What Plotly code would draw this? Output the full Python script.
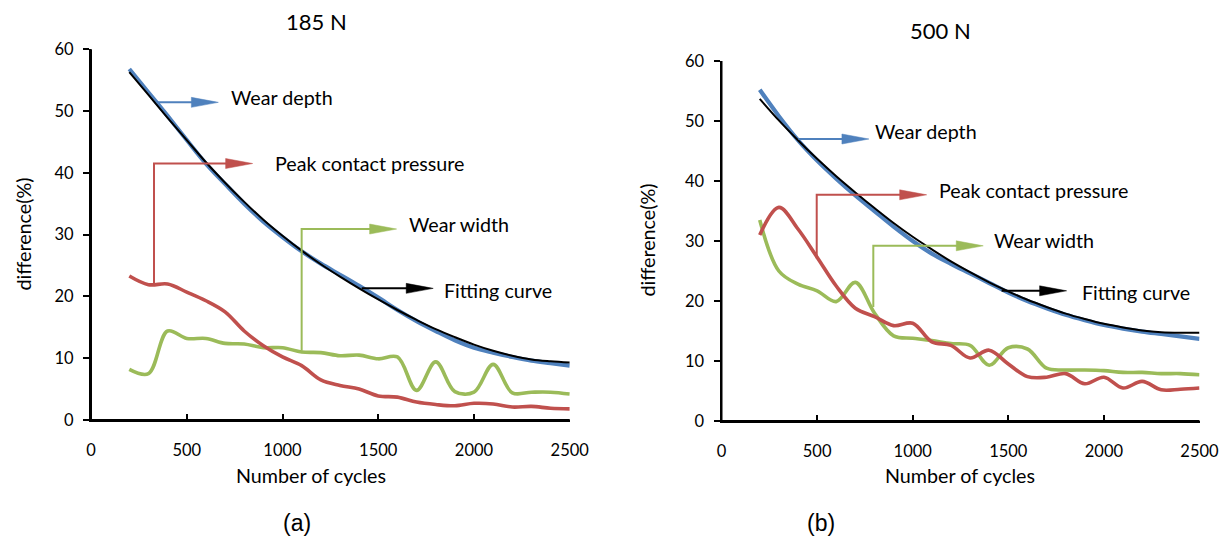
import plotly.graph_objects as go

# ---------------- data ----------------
cycles = [200, 300, 400, 500, 600, 700, 800, 900, 1000, 1100, 1200, 1300,
          1400, 1500, 1600, 1700, 1800, 1900, 2000, 2100, 2200, 2300, 2400, 2500]

# (a) 185 N
wear_depth_a = [56.8, 53.0, 49.2, 45.3, 41.5, 38.2, 35.0, 32.1, 29.6, 27.3, 25.3, 23.5,
                21.7, 19.8, 17.8, 16.0, 14.4, 12.9, 11.7, 10.9, 10.2, 9.6, 9.2, 8.8]
fitting_a = [56.3, 52.6, 48.9, 45.3, 41.7, 38.4, 35.3, 32.4, 29.8, 27.4, 25.2, 23.2,
             21.3, 19.5, 17.8, 16.2, 14.7, 13.4, 12.2, 11.2, 10.4, 9.8, 9.5, 9.3]
pressure_a = [23.3, 21.9, 22.0, 20.7, 19.3, 17.5, 14.4, 12.0, 10.2, 8.8, 6.5, 5.6,
              5.0, 3.9, 3.7, 2.9, 2.5, 2.3, 2.7, 2.6, 2.1, 2.2, 1.9, 1.8]
wear_width_a = [8.2, 7.5, 14.4, 13.2, 13.2, 12.4, 12.3, 11.7, 11.7, 11.0, 10.9, 10.4,
                10.5, 9.9, 10.2, 4.8, 9.4, 4.6, 4.5, 9.0, 4.4, 4.5, 4.5, 4.2]

# (b) 500 N
wear_depth_b = [55.2, 50.8, 46.8, 43.4, 40.4, 37.6, 35.0, 32.4, 30.0, 27.9, 26.2, 24.6,
                23.0, 21.4, 20.0, 18.8, 17.7, 16.8, 16.0, 15.4, 14.9, 14.5, 14.1, 13.7]
fitting_b = [53.7, 50.1, 46.8, 43.7, 40.8, 38.1, 35.5, 33.0, 30.7, 28.6, 26.6, 24.8,
             23.1, 21.6, 20.2, 19.0, 17.9, 17.0, 16.2, 15.6, 15.1, 14.8, 14.7, 14.7]
pressure_b = [31.0, 35.6, 32.0, 27.3, 22.5, 18.8, 17.4, 15.9, 16.3, 13.2, 12.6, 10.5,
              11.8, 9.5, 7.4, 7.3, 7.9, 6.2, 7.3, 5.5, 6.6, 5.2, 5.3, 5.5]
wear_width_b = [33.5, 25.0, 22.8, 21.7, 19.9, 23.1, 18.0, 14.2, 13.8, 13.4, 12.9, 12.6,
                9.3, 12.2, 12.0, 8.8, 8.5, 8.5, 8.4, 8.1, 8.1, 7.9, 7.9, 7.7]

x_ticks = [0, 500, 1000, 1500, 2000, 2500]
y_ticks = [0, 10, 20, 30, 40, 50, 60]
titles = ["185 N", "500 N"]
subcaptions = ["(a)", "(b)"]
labels = ["Wear depth", "Peak contact pressure", "Wear width", "Fitting curve"]

# ---------------- style / layout ----------------
W, H = 1225, 537
BLUE, RED, GREEN, BLACK = "#4F81BD", "#C0504D", "#9BBB59", "#000000"
FONT = "Lato"
LABEL_SIZE = 19.7
TICK_SIZE = 16.5

# plot areas in pixels: (left, right, top(y=60), bottom(y=0))
areas = [(91.0, 569.75, 49.2, 420.0), (721.5, 1199.5, 61.0, 421.0)]

# callout geometry per panel: (colour, path points in data units, label x, label y)
callouts = [
    [(BLUE, [(343, 51.4), (665, 51.4)], 722, 52.2),
     (RED, [(329, 21.8), (329, 41.5), (844, 41.5)], 949, 41.5),
     (GREEN, [(1100, 11.2), (1100, 30.9), (1596, 30.9)], 1651, 31.7),
     (BLACK, [(1414, 21.3), (1787, 21.3)], 1831, 21.0)],
    [(BLUE, [(402, 47.0), (771, 47.0)], 794, 48.2),
     (RED, [(498, 27.1), (498, 37.7), (1073, 37.7)], 1129, 38.5),
     (GREEN, [(794, 19.0), (794, 29.2), (1369, 29.2)], 1413, 30.05),
     (BLACK, [(1465, 21.7), (1805, 21.7)], 1875, 21.5)],
]

panels = [
    (wear_width_a, pressure_a, wear_depth_a, fitting_a),
    (wear_width_b, pressure_b, wear_depth_b, fitting_b),
]

fig = go.Figure()
shapes = []
annotations = []

for i, (ww, pcp, wd, fit) in enumerate(panels):
    xa = "x" if i == 0 else "x2"
    ya = "y" if i == 0 else "y2"
    for vals, col, wdt in [(ww, GREEN, 3.6), (pcp, RED, 3.6), (wd, BLUE, 4.2), (fit, BLACK, 2.0)]:
        fig.add_trace(go.Scatter(x=cycles, y=vals, mode="lines", xaxis=xa, yaxis=ya,
                                 line=dict(color=col, width=wdt, shape="spline", smoothing=1.0),
                                 showlegend=False, hoverinfo="skip", cliponaxis=False))

    # axis lines (left and bottom) drawn explicitly on top
    xa_dom = ("x domain" if i == 0 else "x2 domain")
    ya_dom = ("y domain" if i == 0 else "y2 domain")
    shapes.append(dict(type="line", xref=xa_dom, yref=ya_dom, x0=0, x1=0, y0=0, y1=1,
                       line=dict(color="black", width=2), layer="above"))
    shapes.append(dict(type="line", xref=xa_dom, yref=ya_dom, x0=0, x1=1, y0=0, y1=0,
                       line=dict(color="black", width=2), layer="above"))

    l, r, t, b = areas[i]
    xpx = (r - l) / 2500.0
    ypx = (b - t) / 60.0
    head_len = 27.0 / xpx
    head_half = 5.0 / ypx
    for (col, pts, tx, ty), lab in zip(callouts[i], labels):
        xt, yt = pts[-1]
        line_pts = pts[:-1] + [(xt - head_len * 0.8, yt)]
        path = "M " + " L ".join(f"{px},{py}" for px, py in line_pts)
        shapes.append(dict(type="path", path=path, xref=xa, yref=ya,
                           line=dict(color=col, width=2), layer="above"))
        tri = (f"M {xt},{yt} L {xt - head_len},{yt + head_half} "
               f"L {xt - head_len},{yt - head_half} Z")
        shapes.append(dict(type="path", path=tri, xref=xa, yref=ya,
                           fillcolor=col, line=dict(color=col, width=0.5), layer="above"))
        annotations.append(dict(x=tx, y=ty, xref=xa, yref=ya, text=lab, showarrow=False,
                                xanchor="left", yanchor="middle",
                                font=dict(family=FONT, size=LABEL_SIZE, color="#000000")))

def axis_common():
    return dict(showgrid=False, zeroline=False, showline=True, linecolor="black",
                linewidth=2, tickcolor="black", tickwidth=2, ticklen=6, automargin=False,
                tickfont=dict(family=FONT, size=TICK_SIZE, color="#000000"), layer="above traces")

layout_axes = {}
for i, (l, r, t, b) in enumerate(areas):
    sfx = "" if i == 0 else "2"
    layout_axes["xaxis" + sfx] = dict(axis_common(), domain=[l / W, r / W], range=[0, 2500],
                                     tickvals=x_ticks, ticks="inside", anchor="y" + sfx,
                                     ticklabelstandoff=14, fixedrange=True)
    layout_axes["yaxis" + sfx] = dict(axis_common(), domain=[1 - b / H, 1 - t / H], range=[0, 60],
                                     tickvals=y_ticks, ticks="outside", anchor="x" + sfx,
                                     ticklabelstandoff=6, fixedrange=True)

# titles, axis titles and sub-captions (paper coordinates from pixel positions)
text_items = [
    (titles[0], 316.7, 21.7, 22, FONT, 0),
    (titles[1], 940.0, 30.7, 22, FONT, 0),
    ("Number of cycles", 311.0, 475.7, LABEL_SIZE, FONT, 0),
    ("Number of cycles", 959.5, 475.7, LABEL_SIZE, FONT, 0),
    ("difference(%)", 22.5, 234.0, LABEL_SIZE, FONT, -90),
    ("difference(%)", 647.5, 240.0, LABEL_SIZE, FONT, -90),
    (subcaptions[0], 297.0, 523.0, 23, "Liberation Sans", 0),
    (subcaptions[1], 821.0, 523.0, 23, "Liberation Sans", 0),
]
for txt, px, py, size, fam, ang in text_items:
    annotations.append(dict(x=px / W, y=1 - py / H, xref="paper", yref="paper", text=txt,
                            showarrow=False, xanchor="center", yanchor="middle", textangle=ang,
                            font=dict(family=fam, size=size, color="#000000")))

fig.update_layout(width=W, height=H, autosize=False,
                  margin=dict(l=0, r=0, t=0, b=0, pad=0, autoexpand=False),
                  paper_bgcolor="white", plot_bgcolor="white",
                  shapes=shapes, annotations=annotations, showlegend=False,
                  hovermode=False, **layout_axes)

fig.write_html("out.html", config={"displayModeBar": False})
